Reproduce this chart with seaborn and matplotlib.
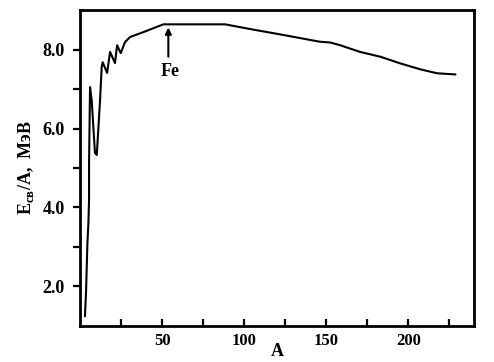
import numpy as np
import pandas as pd
import seaborn as sns
import matplotlib.pyplot as plt

# Binding energy per nucleon vs mass number
mass_number = [3.0, 3.7, 4.5, 5.1, 5.5, 5.5, 6.1, 7.1, 9.1, 10.2, 12.2, 13.2, 13.8,
               16.5, 18.3, 21.3, 22.6, 24.8, 27.4, 30.5, 38.4, 50.8, 88.4, 103.7,
               120.0, 146.0, 152.4, 158.5, 170.7, 182.9, 195.1, 207.3, 217.5, 228.7]
energy = [1.24, 1.91, 3.10, 3.60, 4.19, 5.13, 7.05, 6.72, 5.38, 5.33, 6.72, 7.56, 7.68,
          7.41, 7.94, 7.66, 8.11, 7.91, 8.19, 8.32, 8.44, 8.64, 8.64, 8.52,
          8.40, 8.20, 8.18, 8.11, 7.94, 7.82, 7.65, 7.50, 7.40, 7.37]

x_major = [50, 100, 150, 200]
x_minor = [25, 75, 125, 175, 225]
y_major = [2.0, 4.0, 6.0, 8.0]
y_minor = [3.0, 5.0, 7.0]

fe_a, fe_tip, fe_tail, fe_text = 53.8, 8.56, 7.82, 7.44

df = pd.DataFrame({"A": mass_number, "E": energy})

sns.set_style("white")
plt.rcParams['font.family'] = ['Liberation Serif', 'DejaVu Serif']
plt.rcParams['font.weight'] = 'bold'
plt.rcParams['mathtext.fontset'] = 'custom'
plt.rcParams['mathtext.rm'] = 'Liberation Serif:bold'
plt.rcParams['mathtext.bf'] = 'Liberation Serif:bold'
for key in ['text.color', 'axes.labelcolor', 'xtick.color', 'ytick.color']:
    plt.rcParams[key] = 'black'

fig = plt.figure(figsize=(4.94, 3.62), dpi=100)
ax = fig.add_axes([0.162, 0.100, 0.7975, 0.872])

sns.lineplot(data=df, x="A", y="E", sort=False, estimator=None,
             color="black", linewidth=1.5, ax=ax)

ax.set_xlim(0, 240)
ax.set_ylim(1.0, 9.0)

ax.set_xticks(x_major)
ax.set_xticks(x_minor, minor=True)
ax.set_yticks(y_major)
ax.set_yticks(y_minor, minor=True)
ax.set_yticklabels([f"{v:.1f}" for v in y_major])

ax.tick_params(axis="x", which="both", direction="in", length=5, width=1.6,
               labelsize=12, pad=5)
ax.tick_params(axis="y", which="both", direction="out", length=5, width=1.6,
               labelsize=13, pad=6)
ax.tick_params(axis="both", which="both", bottom=True, left=True)

for s in ax.spines.values():
    s.set_linewidth(2.0)
    s.set_color("black")

ax.set_xlabel("A", fontsize=13, fontweight="bold", labelpad=-4)
ax.set_ylabel(r"E$_{\rm св}$/A,  МэВ", fontsize=13, fontweight="bold", labelpad=5)

ax.annotate("", xy=(fe_a, fe_tip), xytext=(fe_a, fe_tail),
            arrowprops=dict(arrowstyle="-|>", color="black", lw=1.5,
                            mutation_scale=9, shrinkA=0, shrinkB=0))
ax.text(fe_a + 1, fe_text, "Fe", ha="center", va="center",
        fontsize=13, fontweight="bold")

fig.savefig("out.png", dpi=100)
